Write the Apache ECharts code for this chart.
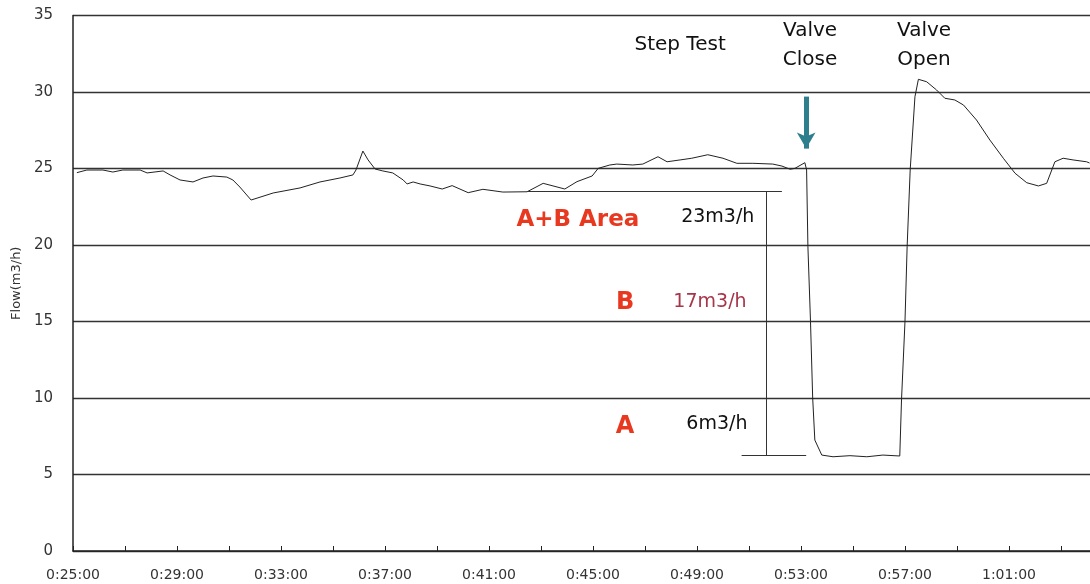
<!DOCTYPE html>
<html>
<head>
<meta charset="utf-8">
<script src="https://cdn.jsdelivr.net/npm/echarts@6/dist/echarts.min.js"></script>
<style>html,body{margin:0;padding:0;background:#fff}#c{width:1090px;height:584px}</style>
</head>
<body>
<div id="c"></div>
<script>
// Sample times (h:mm:ss) and measured flow (m3/h)
var times = ["0:25:09","0:25:32","0:26:09","0:26:32","0:26:55","0:27:35","0:27:51","0:28:28","0:28:44","0:29:07",
 "0:29:37","0:30:00","0:30:23","0:30:55","0:31:09","0:31:25","0:31:51","0:32:42","0:33:44","0:34:30",
 "0:35:16","0:35:46","0:35:53","0:36:09","0:36:21","0:36:37","0:36:55","0:37:18","0:37:42","0:37:51",
 "0:38:05","0:38:21","0:38:44","0:39:12","0:39:35","0:40:12","0:40:46","0:41:32","0:42:28","0:43:05",
 "0:43:55","0:44:23","0:44:58","0:45:12","0:45:39","0:45:55","0:46:32","0:46:55","0:47:30","0:47:51",
 "0:48:21","0:48:48","0:49:25","0:50:00","0:50:32","0:51:09","0:51:55","0:52:16","0:52:35","0:52:46",
 "0:53:09","0:53:13","0:53:16","0:53:22","0:53:27","0:53:32","0:53:48","0:54:14","0:54:53","0:55:32",
 "0:56:09","0:56:48","0:56:52","0:57:00","0:57:05","0:57:12","0:57:23","0:57:31","0:57:50","0:58:13",
 "0:58:32","0:58:55","0:59:15","0:59:45","1:00:16","1:00:47","1:01:14","1:01:41","1:02:08","1:02:27",
 "1:02:46","1:03:05","1:03:28","1:03:59","1:04:06"];
var flow = [24.73,24.90,24.90,24.77,24.90,24.90,24.71,24.84,24.58,24.25,
 24.12,24.38,24.51,24.44,24.25,23.79,22.94,23.40,23.73,24.12,
 24.38,24.58,24.90,26.14,25.56,24.97,24.84,24.71,24.25,23.99,
 24.12,23.99,23.86,23.66,23.88,23.42,23.64,23.46,23.48,24.03,
 23.66,24.14,24.51,25.01,25.23,25.29,25.23,25.29,25.77,25.44,
 25.56,25.67,25.90,25.67,25.34,25.34,25.29,25.16,24.95,25.01,
 25.38,24.90,19.89,14.99,10.00,7.25,6.27,6.16,6.23,6.16,
 6.27,6.21,9.87,14.99,19.89,24.90,29.69,30.83,30.67,30.13,
 29.59,29.48,29.15,28.17,26.86,25.67,24.69,24.07,23.86,24.03,
 25.44,25.67,25.56,25.44,25.36];
var yTicks = [0,5,10,15,20,25,30,35];
var xStart = "0:25:00";
var xEnd = "1:04:07";

// Annotation values
var levelTotal = 23.5;   // A+B line
var levelNight = 6.27;   // A line
var annotTexts = [
  {text:"Step Test", t:"0:48:21", v:33.07, kind:"black"},
  {text:"Valve\nClose", t:"0:53:21", v:33.07, kind:"black"},
  {text:"Valve\nOpen", t:"0:57:44", v:33.07, kind:"black"},
  {text:"A+B Area", t:"0:44:25", v:21.63, kind:"redBig"},
  {text:"23m3/h", t:"0:49:48", v:21.83, kind:"small"},
  {text:"B", t:"0:46:14", v:16.2, kind:"red"},
  {text:"17m3/h", t:"0:49:30", v:16.27, kind:"maroon"},
  {text:"A", t:"0:46:14", v:8.1, kind:"red"},
  {text:"6m3/h", t:"0:49:46", v:8.3, kind:"small"}
];

function toSec(s){var p=s.split(":").map(Number);return p[0]*3600+p[1]*60+p[2];}
var base = toSec(xStart);
function off(s){return toSec(s)-base;}
function fmt(v){var s=Math.round(v)+base;var h=Math.floor(s/3600),m=Math.floor((s%3600)/60),sec=s%60;
  return h+":"+(m<10?"0":"")+m+":"+(sec<10?"0":"")+sec;}

var seriesData = times.map(function(t,i){return [off(t), flow[i]];});

var F = "DejaVu Sans";
var styles = {
  black:{color:"#111",fontSize:20,fontFamily:F,lineHeight:29},
  redBig:{color:"#e8381f",fontSize:23,fontWeight:"bold",fontFamily:F},
  red:{color:"#e8381f",fontSize:24,fontWeight:"bold",fontFamily:F},
  small:{color:"#111",fontSize:19,fontFamily:F},
  maroon:{color:"#a8364a",fontSize:19,fontFamily:F}
};
var mp = annotTexts.map(function(a){
  return {coord:[off(a.t),a.v], symbolSize:0, label:Object.assign({show:true,position:"inside",formatter:a.text},styles[a.kind])};
});

var chart = echarts.init(document.getElementById('c'));
chart.setOption({
  animation:false,
  backgroundColor:"#fff",
  grid:{left:73,right:0,top:15.5,bottom:33},
  xAxis:{type:"value",min:0,max:off(xEnd),interval:240,
    axisLine:{show:true,lineStyle:{color:"#222",width:1.5}},
    axisTick:{show:true,inside:true,length:5,lineStyle:{color:"#222"}},
    minorTick:{show:true,splitNumber:2,length:5,lineStyle:{color:"#222"}},
    splitLine:{show:false},
    axisLabel:{formatter:fmt,color:"#333",fontSize:14,fontFamily:F,margin:17,showMaxLabel:false}},
  yAxis:{type:"value",min:yTicks[0],max:yTicks[yTicks.length-1],interval:5,
    name:"Flow(m3/h)",nameLocation:"middle",nameGap:48,nameRotate:90,
    nameTextStyle:{color:"#333",fontSize:13,fontFamily:F},
    axisLine:{show:true,lineStyle:{color:"#222",width:1.5}},
    axisTick:{show:false},
    splitLine:{show:true,lineStyle:{color:"#333",width:1.3}},
    axisLabel:{color:"#333",fontSize:15,fontFamily:F,margin:20}},
  series:[{
    type:"line",data:seriesData,showSymbol:false,symbol:"none",
    lineStyle:{color:"#222",width:1},
    markLine:{silent:true,symbol:["none","none"],label:{show:false},
      data:[
        [{coord:[off("0:42:28"),levelTotal],lineStyle:{color:"#333",width:1,type:"solid"}},{coord:[off("0:52:16"),levelTotal]}],
        [{coord:[off("0:51:41"),levelTotal],lineStyle:{color:"#333",width:1,type:"solid"}},{coord:[off("0:51:41"),levelNight]}],
        [{coord:[off("0:50:43"),levelNight],lineStyle:{color:"#333",width:1,type:"solid"}},{coord:[off("0:53:12"),levelNight]}],
        [{coord:[off("0:53:12"),29.7],lineStyle:{color:"#2d7f8e",width:5,type:"solid"},symbol:"none"},{coord:[off("0:53:12"),26.3],symbol:"arrow",symbolSize:[14,16]}]
      ]},
    markPoint:{silent:true,symbol:"circle",symbolSize:0,itemStyle:{color:"rgba(0,0,0,0)"},data:mp}
  }]
});
</script>
</body>
</html>
